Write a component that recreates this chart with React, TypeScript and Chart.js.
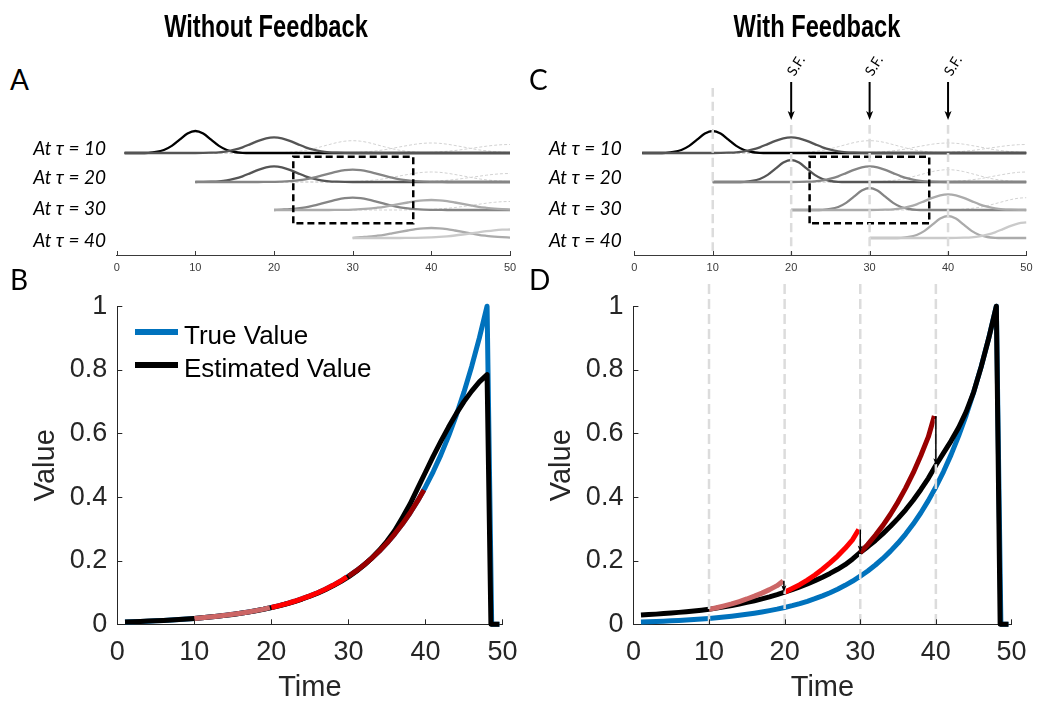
import React, { useEffect, useRef } from "react";
import { Chart, registerables } from "chart.js";
Chart.register(...registerables);

// ---------------- data ----------------
const TIME_TICKS = [0, 10, 20, 30, 40, 50];
const VALUE_TICKS = [0, 0.2, 0.4, 0.6, 0.8, 1];

const TIME = [1, 2, 3, 4, 5, 6, 7, 8, 9, 10, 11, 12, 13, 14, 15, 16, 17, 18, 19, 20, 21, 22, 23, 24, 25, 26, 27, 28, 29, 30, 31, 32, 33, 34, 35, 36, 37, 38, 39, 40, 41, 42, 43, 44, 45, 46, 47, 48];
const TRUE_VALUE = [0.0072, 0.008, 0.0089, 0.0099, 0.0109, 0.0122, 0.0135, 0.015, 0.0167, 0.0185, 0.0206, 0.0228, 0.0254, 0.0282, 0.0313, 0.0347, 0.0386, 0.0429, 0.0476, 0.0529, 0.0587, 0.0652, 0.0724, 0.0805, 0.0894, 0.0993, 0.1103, 0.1225, 0.136, 0.1511, 0.1678, 0.1864, 0.207, 0.2299, 0.2554, 0.2837, 0.3151, 0.3499, 0.3887, 0.4317, 0.4795, 0.5326, 0.5916, 0.657, 0.7298, 0.8106, 0.9003, 1.0];
const EST_NO_FEEDBACK = [0.0075, 0.0082, 0.0091, 0.01, 0.0111, 0.0123, 0.0136, 0.0151, 0.0168, 0.0186, 0.0206, 0.0228, 0.0253, 0.0281, 0.0311, 0.0345, 0.0383, 0.0425, 0.0471, 0.0523, 0.0581, 0.0645, 0.0716, 0.0795, 0.0883, 0.098, 0.1088, 0.1208, 0.1342, 0.149, 0.166, 0.1855, 0.2075, 0.2325, 0.261, 0.294, 0.335, 0.378, 0.428, 0.478, 0.528, 0.575, 0.62, 0.662, 0.7, 0.733, 0.762, 0.785];
const EST_FEEDBACK = [0.029, 0.0305, 0.032, 0.0337, 0.0355, 0.0375, 0.0396, 0.0419, 0.0443, 0.047, 0.0508, 0.0548, 0.0592, 0.0638, 0.0688, 0.0742, 0.08, 0.0862, 0.0932, 0.101, 0.109, 0.1178, 0.1272, 0.1373, 0.1482, 0.16, 0.173, 0.1875, 0.2055, 0.226, 0.244, 0.2635, 0.285, 0.308, 0.333, 0.36, 0.39, 0.423, 0.459, 0.5, 0.538, 0.576, 0.618, 0.668, 0.73, 0.81, 0.9, 1.0];
// after the last step the value falls to zero
const TRUE_END_TIME = [48.6, 49.6];
const EST_END_TIME = [48.5, 49.6];
const END_VALUE = [0, 0];

// prediction segments between updates
const SEG1_TIME = [10, 11, 12, 13, 14, 15, 16, 17, 18, 19, 19.8];
const SEG2_TIME = [20, 21, 22, 23, 24, 25, 26, 27, 28, 29, 29.8];
const SEG3_TIME = [30, 31, 32, 33, 34, 35, 36, 37, 38, 39, 39.8];
const NOFB_SEG1 = [0.0185, 0.0206, 0.0228, 0.0254, 0.0282, 0.0313, 0.0347, 0.0386, 0.0429, 0.0476, 0.0525];
const NOFB_SEG2 = [0.0529, 0.0587, 0.0652, 0.0724, 0.0805, 0.0894, 0.0993, 0.1103, 0.1225, 0.136, 0.149];
const NOFB_SEG3 = [0.1511, 0.1678, 0.1864, 0.207, 0.2299, 0.2554, 0.2837, 0.3151, 0.3499, 0.3887, 0.422];
const FB_SEG1 = [0.047, 0.052, 0.058, 0.064, 0.0716, 0.0796, 0.0884, 0.098, 0.109, 0.1215, 0.136];
const FB_SEG2 = [0.101, 0.1125, 0.1245, 0.139, 0.155, 0.173, 0.193, 0.2145, 0.239, 0.2665, 0.298];
const FB_SEG3 = [0.226, 0.251, 0.28, 0.311, 0.346, 0.385, 0.428, 0.476, 0.53, 0.589, 0.655];

// feedback corrections (panel D)
const FB_ARROW_TIME = [19.9, 30, 40];
const FB_ARROW_FROM = [0.137, 0.298, 0.655];
const FB_ARROW_TO = [0.101, 0.226, 0.5];

// top panels: predicted timing distributions
const ROW_LABELS = ["At \u03c4 = 10", "At \u03c4 = 20", "At \u03c4 = 30", "At \u03c4 = 40"];
const ROW_START = [1, 10, 20, 30];
const ROW_BASE = [85, 56, 28, 0];
const EVENT_TIMES = [10, 20, 30, 40, 50];
const EVENT_GRAYS = ["#000000", "#555555", "#858585", "#ababab", "#cacaca"];
const BUMP_1 = [22, 19.4, 13.3, 7.1, 3.0, 1.0, 0.2, 0];
const BUMP_2 = [15.6, 14.7, 12.2, 8.9, 5.7, 3.3, 1.6, 0.7, 0.3, 0.1, 0];
const BUMP_3 = [12.3, 11.8, 10.4, 8.4, 6.3, 4.3, 2.7, 1.6, 0.85, 0.4, 0.2, 0.1, 0];
const BUMP_4 = [10, 9.7, 8.8, 7.5, 6.1, 4.6, 3.2, 2.2, 1.35, 0.8, 0.45, 0.2, 0.1, 0];
const BUMP_5 = [8.5, 8.3, 7.7, 6.8, 5.7, 4.6, 3.5, 2.5, 1.7, 1.1, 0.7, 0.4, 0.2, 0.1, 0];
const BUMPS = [BUMP_1, BUMP_2, BUMP_3, BUMP_4, BUMP_5];

const BOX_A_TIME = [22.45, 22.45, 37.7, 37.7, 22.45];
const BOX_C_TIME = [22.35, 22.35, 37.6, 37.6, 22.35];
const BOX_LEVEL = [14.7, 81.3, 81.3, 14.7, 14.7];

const FEEDBACK_TIMES = [10, 20, 30, 40];
const FEEDBACK_LINE_TOP = [150, 113, 113, 113];
const SF_TIMES = [20, 30, 40];
const SF_ARROW_FROM = 156;
const SF_ARROW_TO = 118;

// ---------------- styles ----------------
const SANS = '"Liberation Sans", Arial, Helvetica, sans-serif';
const LATO = 'Lato, "Open Sans", sans-serif';
const AXIS = "#262626";
const BLUE = "#0072BD";
const ROSE = "#CC6666";
const RED = "#FF0000";
const DARKRED = "#990000";
const GUIDE = "#dcdcdc";

const xy = (xs: number[], ys: number[]) => xs.map((x, i) => ({ x, y: ys[i] }));

const inwardTicks = {
  id: "inwardTicks",
  afterDraw(chart: any, _a: any, opts: any) {
    const { ctx, chartArea, scales } = chart;
    ctx.save();
    ctx.strokeStyle = opts.color;
    ctx.lineWidth = 1;
    ctx.beginPath();
    (opts.x || []).forEach((v: number) => {
      const px = Math.round(scales.x.getPixelForValue(v)) + 0.5;
      ctx.moveTo(px, chartArea.bottom);
      ctx.lineTo(px, chartArea.bottom - opts.len);
    });
    (opts.y || []).forEach((v: number) => {
      const py = Math.round(scales.y.getPixelForValue(v)) + 0.5;
      ctx.moveTo(chartArea.left, py);
      ctx.lineTo(chartArea.left + opts.len, py);
    });
    ctx.stroke();
    ctx.restore();
  },
};

const arrowPlugin = {
  id: "arrows",
  afterDatasetsDraw(chart: any, _a: any, opts: any) {
    const { ctx, scales } = chart;
    (opts.items || []).forEach((a: any) => {
      const x = scales.x.getPixelForValue(a.x);
      const y0 = scales.y.getPixelForValue(a.from);
      const y1 = scales.y.getPixelForValue(a.to);
      ctx.save();
      ctx.strokeStyle = "#000";
      ctx.fillStyle = "#000";
      ctx.lineWidth = opts.width;
      ctx.beginPath();
      ctx.moveTo(x, y0);
      ctx.lineTo(x, y1 - opts.head * 0.7);
      ctx.stroke();
      ctx.beginPath();
      ctx.moveTo(x, y1);
      ctx.lineTo(x - opts.headW / 2, y1 - opts.head);
      ctx.lineTo(x, y1 - opts.head * 0.75);
      ctx.lineTo(x + opts.headW / 2, y1 - opts.head);
      ctx.closePath();
      ctx.fill();
      ctx.restore();
    });
  },
};

function bumpCurve(start: number, base: number, center: number, prof: number[]) {
  const pts = [{ x: start, y: base }];
  for (let d = -(prof.length - 1); d <= prof.length - 1; d++) {
    const x = center + d;
    if (x <= start || x > 50) continue;
    pts.push({ x, y: base + prof[Math.abs(d)] });
  }
  if (pts[pts.length - 1].x < 50) pts.push({ x: 50, y: base });
  return pts;
}

function topConfig(feedback: boolean, pad: any): any {
  const dashed: any[] = [];
  const solid: any[] = [];
  ROW_START.forEach((start, r) => {
    for (let e = r; e < EVENT_TIMES.length; e++) {
      const j = e - r;
      const level = feedback ? j : e;
      const data = bumpCurve(start, ROW_BASE[r], EVENT_TIMES[e], BUMPS[level]);
      if (j <= 1) {
        solid.push({ data, borderColor: EVENT_GRAYS[e], borderWidth: 2.3 });
      } else {
        dashed.push({ data, borderColor: "#d2d2d2", borderWidth: 1, borderDash: [3, 2] });
      }
    }
  });
  const extras: any[] = [
    {
      data: xy(feedback ? BOX_C_TIME : BOX_A_TIME, BOX_LEVEL),
      borderColor: "#000",
      borderWidth: 2.5,
      borderDash: [7, 4],
      cubicInterpolationMode: "default",
      tension: 0,
    },
  ];
  if (feedback) {
    FEEDBACK_TIMES.forEach((t, i) => {
      extras.push({
        data: [{ x: t, y: FEEDBACK_LINE_TOP[i] }, { x: t, y: -17 }],
        borderColor: GUIDE,
        borderWidth: 2.5,
        borderDash: [9, 5],
        tension: 0,
      });
    });
  }
  const all = [...dashed, ...solid, ...extras].map((d, i) => ({
    pointRadius: 0,
    fill: false,
    cubicInterpolationMode: "monotone",
    ...d,
    order: -i,
  }));
  return {
    type: "line",
    data: { datasets: all },
    plugins: [inwardTicks, arrowPlugin],
    options: {
      animation: false,
      responsive: false,
      devicePixelRatio: 1,
      events: [],
      layout: { padding: pad },
      plugins: {
        legend: { display: false },
        tooltip: { enabled: false },
        inwardTicks: { x: TIME_TICKS, len: 4, color: "#3a3a3a" },
        arrows: {
          items: feedback ? SF_TIMES.map((t) => ({ x: t, from: SF_ARROW_FROM, to: SF_ARROW_TO })) : [],
          width: 2,
          head: 9,
          headW: 7,
        },
      },
      scales: {
        x: {
          type: "linear",
          min: 0,
          max: 50,
          afterBuildTicks: (s: any) => {
            s.ticks = TIME_TICKS.map((v) => ({ value: v }));
          },
          afterFit: (s: any) => {
            s.height = 25;
          },
          grid: { display: false, drawTicks: false },
          border: { display: true, color: "#3a3a3a", width: 1 },
          ticks: { font: { family: SANS, size: 11 }, color: "#3a3a3a", padding: 6.4, maxRotation: 0, autoSkip: false },
        },
        y: { type: "linear", min: -17, max: 208, display: false },
      },
    },
  };
}

function bottomConfig(feedback: boolean, pad: any, yWidth: number, titlePad: number): any {
  const ds: any[] = [];
  if (feedback) {
    FEEDBACK_TIMES.forEach((t) => {
      ds.push({
        data: [{ x: t, y: 1.07 }, { x: t, y: 0 }],
        borderColor: GUIDE,
        borderWidth: 2.5,
        borderDash: [10, 5],
        clip: false,
      });
    });
  }
  const segs = feedback ? [FB_SEG1, FB_SEG2, FB_SEG3] : [NOFB_SEG1, NOFB_SEG2, NOFB_SEG3];
  const segTimes = [SEG1_TIME, SEG2_TIME, SEG3_TIME];
  const segColors = [ROSE, RED, DARKRED];
  segs.forEach((s, i) => ds.push({ data: xy(segTimes[i], s), borderColor: segColors[i], borderWidth: 5 }));
  ds.push({
    data: [...xy(TIME, feedback ? EST_FEEDBACK : EST_NO_FEEDBACK), ...xy(EST_END_TIME, END_VALUE)],
    borderColor: "#000000",
    borderWidth: 5,
  });
  ds.push({ data: [...xy(TIME, TRUE_VALUE), ...xy(TRUE_END_TIME, END_VALUE)], borderColor: BLUE, borderWidth: 5 });
  const datasets = ds.map((d, i) => ({
    pointRadius: 0,
    fill: false,
    tension: 0,
    clip: 10,
    borderJoinStyle: "round",
    borderCapStyle: "butt",
    ...d,
    order: i,
  }));
  return {
    type: "line",
    data: { datasets },
    plugins: [inwardTicks, arrowPlugin],
    options: {
      animation: false,
      responsive: false,
      devicePixelRatio: 1,
      events: [],
      layout: { padding: pad },
      plugins: {
        legend: { display: false },
        tooltip: { enabled: false },
        inwardTicks: { x: TIME_TICKS, y: VALUE_TICKS, len: 5, color: AXIS },
        arrows: {
          items: feedback
            ? FB_ARROW_TIME.map((t, i) => ({ x: t, from: FB_ARROW_FROM[i], to: FB_ARROW_TO[i] }))
            : [],
          width: 1.5,
          head: 7,
          headW: 5,
        },
      },
      scales: {
        x: {
          type: "linear",
          min: 0,
          max: 50,
          afterBuildTicks: (s: any) => {
            s.ticks = TIME_TICKS.map((v) => ({ value: v }));
          },
          afterFit: (s: any) => {
            s.height = 81.7;
          },
          grid: { display: false, drawTicks: false },
          border: { display: true, color: AXIS, width: 1 },
          ticks: { font: { family: SANS, size: 27 }, color: AXIS, padding: 12.5, maxRotation: 0, autoSkip: false },
          title: { display: true, text: "Time", font: { family: SANS, size: 29 }, color: AXIS, padding: { top: 0, bottom: 0.6 } },
        },
        y: {
          type: "linear",
          min: 0,
          max: 1,
          afterBuildTicks: (s: any) => {
            s.ticks = VALUE_TICKS.map((v) => ({ value: v }));
          },
          afterFit: (s: any) => {
            s.width = yWidth;
          },
          grid: { display: false, drawTicks: false },
          border: { display: true, color: AXIS, width: 1 },
          ticks: { font: { family: SANS, size: 27 }, color: AXIS, padding: 10, callback: (v: number) => String(v) },
          title: { display: true, text: "Value", font: { family: SANS, size: 29 }, color: AXIS, padding: { top: titlePad, bottom: 0 } },
        },
      },
    },
  };
}

function ChartBox({ left, top, width, height, make }: any) {
  const ref = useRef<HTMLCanvasElement>(null);
  useEffect(() => {
    const chart = new Chart(ref.current as HTMLCanvasElement, make());
    return () => chart.destroy();
  }, []);
  return (
    <canvas
      ref={ref}
      width={width}
      height={height}
      style={{ position: "absolute", left, top, width, height }}
    />
  );
}

const abs = (s: any) => ({ position: "absolute" as const, whiteSpace: "nowrap" as const, lineHeight: 1, ...s });

export default function App() {
  const rowBaselines = [153.3, 181.7, 213.3, 245];
  const rowFont = 19;
  const titleStyle = (cx: number) =>
    abs({
      left: cx - 200,
      width: 400,
      top: 8,
      textAlign: "center",
      font: `bold 32px ${SANS}`,
      color: "#000",
      transform: "scaleX(0.74)",
      transformOrigin: "50% 50%",
    });
  return (
    <div style={{ position: "absolute", left: 0, top: 0, width: 1039, height: 706, overflow: "hidden", background: "#fff" }}>
      <ChartBox left={96} top={20} width={434} height={260} make={() => topConfig(false, { left: 20.7, right: 20, top: 10, bottom: 0 })} />
      <ChartBox left={614} top={20} width={425} height={260} make={() => topConfig(true, { left: 20.3, right: 11.7, top: 10, bottom: 0 })} />
      <ChartBox left={0} top={280} width={530} height={426} make={() => bottomConfig(false, { left: 0, right: 21.2, top: 22.3, bottom: 0 }, 117.3, 28.6)} />
      <ChartBox left={520} top={280} width={519} height={426} make={() => bottomConfig(true, { left: 0, right: 14, top: 22.3, bottom: 0 }, 113.4, 24.6)} />

      <div style={titleStyle(266)}>Without Feedback</div>
      <div style={titleStyle(817)}>With Feedback</div>

      <div style={abs({ left: 10, top: 62, font: `28px ${LATO}` })}>A</div>
      <div style={abs({ left: 10, top: 262, font: `28px ${LATO}` })}>B</div>
      <div style={abs({ left: 529, top: 62, font: `28px ${LATO}` })}>C</div>
      <div style={abs({ left: 529, top: 262, font: `28px ${LATO}` })}>D</div>

      {ROW_LABELS.map((t, i) => (
        <div key={"a" + i} style={abs({ left: 0, width: 106, textAlign: "right", top: rowBaselines[i] - 0.887 * rowFont, font: `italic ${rowFont}px ${LATO}` })}>{t}</div>
      ))}
      {ROW_LABELS.map((t, i) => (
        <div key={"c" + i} style={abs({ left: 500, width: 121.7, textAlign: "right", top: rowBaselines[i] - 0.887 * rowFont, font: `italic ${rowFont}px ${LATO}` })}>{t}</div>
      ))}

      {[795, 873, 951.7].map((cx, i) => (
        <div key={"sf" + i} style={abs({ left: cx - 20, top: 57, width: 40, height: 16, textAlign: "center", font: `14px ${LATO}`, transform: "rotate(-58deg)" })}>S.F.</div>
      ))}

      <div style={abs({ left: 135, top: 329, width: 43, height: 5.5, background: BLUE })} />
      <div style={abs({ left: 135, top: 362.3, width: 43, height: 5.5, background: "#000" })} />
      <div style={abs({ left: 184, top: 333 - 0.4885 * 26, font: `26px ${SANS}`, color: "#000" })}>True Value</div>
      <div style={abs({ left: 184, top: 365.5 - 0.4885 * 26, font: `26px ${SANS}`, color: "#000" })}>Estimated Value</div>
    </div>
  );
}
